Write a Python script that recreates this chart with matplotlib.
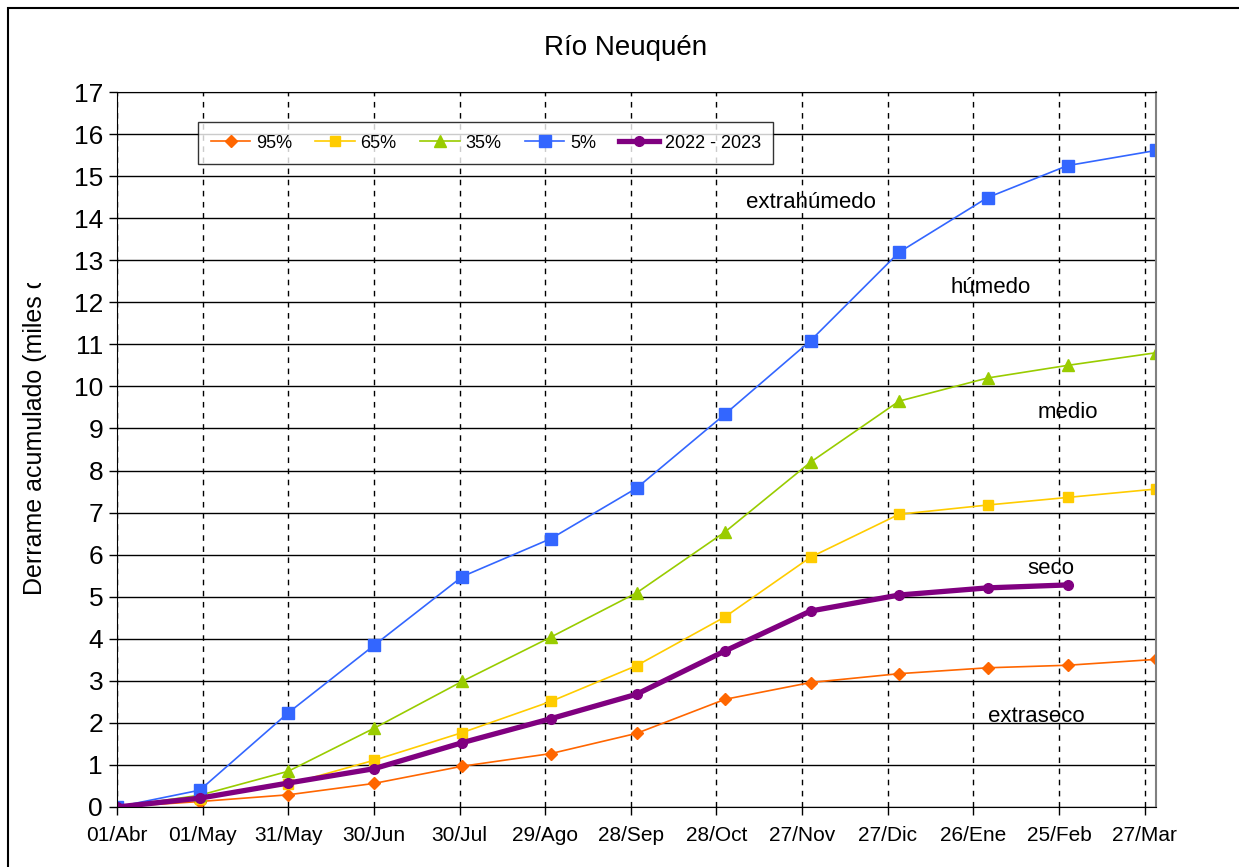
import datetime as dt
import matplotlib
matplotlib.use("Agg")
import matplotlib.pyplot as plt
from matplotlib.patches import Rectangle
from matplotlib.transforms import Bbox, TransformedBbox

# fechas de corte (fin de mes) del año hidrológico abr/2022 - mar/2023
fechas = [dt.date(2022, 4, 1), dt.date(2022, 4, 30), dt.date(2022, 5, 31),
          dt.date(2022, 6, 30), dt.date(2022, 7, 31), dt.date(2022, 8, 31),
          dt.date(2022, 9, 30), dt.date(2022, 10, 31), dt.date(2022, 11, 30),
          dt.date(2022, 12, 31), dt.date(2023, 1, 31), dt.date(2023, 2, 28),
          dt.date(2023, 3, 31)]

p95 = [0, 0.13, 0.29, 0.56, 0.97, 1.27, 1.75, 2.56, 2.96, 3.17, 3.31, 3.37, 3.51]
p65 = [0, 0.20, 0.54, 1.11, 1.77, 2.51, 3.36, 4.52, 5.94, 6.96, 7.18, 7.36, 7.56]
p35 = [0, 0.28, 0.85, 1.87, 2.99, 4.04, 5.09, 6.54, 8.20, 9.65, 10.20, 10.50, 10.80]
p5 = [0, 0.40, 2.24, 3.84, 5.48, 6.38, 7.58, 9.34, 11.09, 13.19, 14.49, 15.25, 15.61]
y2022 = [0, 0.21, 0.57, 0.91, 1.53, 2.10, 2.68, 3.71, 4.66, 5.04, 5.21, 5.28]

etiquetas_x = ["01/Abr", "01/May", "31/May", "30/Jun", "30/Jul", "29/Ago", "28/Sep",
               "28/Oct", "27/Nov", "27/Dic", "26/Ene", "25/Feb", "27/Mar"]
inicio = dt.date(2022, 4, 1)
ticks_x = [inicio + dt.timedelta(days=30 * i) for i in range(13)]

plt.rcParams["font.family"] = ["Liberation Sans", "DejaVu Sans"]

fig = plt.figure(figsize=(12.39, 8.67), dpi=100)
ax = fig.add_axes([117 / 1239, 1 - 807 / 867, (1156 - 117) / 1239, (807 - 92) / 867])

ax.plot(fechas, p95, color="#FF6600", lw=1.2, marker="D", ms=6, label="95%")
ax.plot(fechas, p65, color="#FFCC00", lw=1.2, marker="s", ms=7, label="65%")
ax.plot(fechas, p35, color="#99CC00", lw=1.2, marker="^", ms=9, label="35%")
ax.plot(fechas, p5, color="#3366FF", lw=1.2, marker="s", ms=8, label="5%")
ax.plot(fechas[:len(y2022)], y2022, color="#800080", lw=3.8, marker="o", ms=7,
        label="2022 - 2023")

ax.set_xlim(inicio, dt.date(2023, 3, 31))
ax.set_ylim(0, 17)
ax.set_yticks(range(0, 18))
ax.set_xticks(ticks_x)
ax.set_xticklabels(etiquetas_x, fontsize=15)
for t in ax.get_yticklabels():
    t.set_fontsize(19)
ax.tick_params(axis="both", direction="out", length=6, color="black", width=1)
ax.tick_params(axis="x", pad=8)
ax.tick_params(axis="y", pad=4)

ax.grid(axis="y", color="black", lw=1)
ax.grid(axis="x", color="black", lw=1, ls=(0, (4, 4)))
ax.set_axisbelow(True)
for s in ["left", "bottom", "top"]:
    ax.spines[s].set_color("black")
ax.spines["right"].set_color("#808080")
ax.spines["right"].set_linewidth(1.5)

leg = ax.legend(loc="upper left", bbox_to_anchor=(0.078, 0.958), ncol=5,
                fontsize=13, frameon=True, fancybox=False, edgecolor="black",
                handlelength=2.2, handletextpad=0.3, columnspacing=1.3,
                borderpad=0.7, borderaxespad=0)
leg.get_frame().set_linewidth(1)

# nombres de las franjas de escenario
franjas = [("extrahúmedo", 243, 14.38), ("húmedo", 306, 12.36), ("medio", 333, 9.37),
           ("seco", 327, 5.66), ("extraseco", 322, 2.14)]
for nombre, dia, nivel in franjas:
    ax.text(inicio + dt.timedelta(days=dia), nivel, nombre,
            fontsize=16, ha="center", va="center")

fig.text(0.505, 1 - 48 / 867, "Río Neuquén", fontsize=20, ha="center", va="center")

ylab = fig.text(35 / 1239, 1 - 595 / 867, "Derrame acumulado (miles de hm³)",
                fontsize=18, rotation=90, ha="center", va="bottom")
ylab.set_clip_box(TransformedBbox(Bbox([[0, 0], [0.1, 1 - 283 / 867]]), fig.transFigure))
ylab.set_clip_on(True)

fig.patches.append(Rectangle((8 / 1239, -0.05), 1.2, 1.05 - 8 / 867, fill=False,
                             edgecolor="black", lw=1.5, transform=fig.transFigure))

fig.savefig("out.png", dpi=100)
